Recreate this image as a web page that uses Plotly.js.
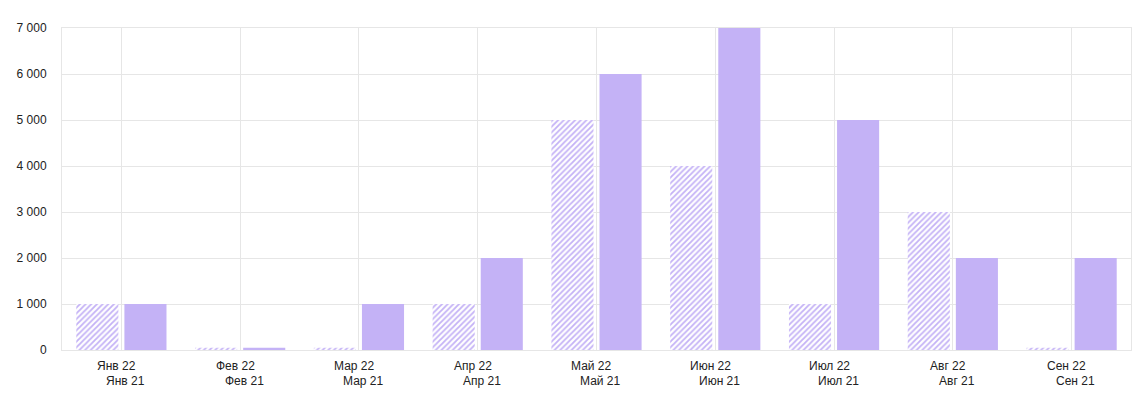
<!DOCTYPE html>
<html>
<head>
<meta charset="utf-8">
<script src="https://cdn.plot.ly/plotly-3.0.1.min.js"></script>
<style>html,body{margin:0;padding:0;background:#fff;}#chart{width:1133px;height:399px;}</style>
</head>
<body>
<div id="chart"></div>
<script>
const months = ["Янв", "Фев", "Мар", "Апр", "Май", "Июн", "Июл", "Авг", "Сен"];
const labels22 = months.map(m => m + " 22");
const labels21 = months.map(m => m + " 21");
const values22 = [1000, 50, 50, 1000, 5000, 4000, 1000, 3000, 50];
const values21 = [1000, 50, 1000, 2000, 6000, 7000, 5000, 2000, 2000];
const yTicks = [0, 1000, 2000, 3000, 4000, 5000, 6000, 7000];

const purple = '#c4b2f6';
const traces = [
  {
    type: 'bar', x: months, y: values22, name: '2022',
    marker: {color: purple, line: {width: 0},
      pattern: {shape: '/', fgcolor: purple, bgcolor: '#ffffff', size: 4, solidity: 0.45}},
    hoverinfo: 'none'
  },
  {
    type: 'bar', x: months, y: values21, name: '2021',
    marker: {color: purple, line: {width: 0}},
    hoverinfo: 'none'
  }
];

const annotations = [];
months.forEach((m, i) => {
  annotations.push({x: m, y: 0, xref: 'x', yref: 'paper', text: labels22[i], showarrow: false,
    xanchor: 'center', yanchor: 'middle', xshift: -5, yshift: -16,
    font: {family: 'Liberation Sans, Arial, sans-serif', size: 12, color: '#222'}});
  annotations.push({x: m, y: 0, xref: 'x', yref: 'paper', text: labels21[i], showarrow: false,
    xanchor: 'center', yanchor: 'middle', xshift: 4, yshift: -31,
    font: {family: 'Liberation Sans, Arial, sans-serif', size: 12, color: '#222'}});
});

const layout = {
  width: 1133, height: 399,
  margin: {l: 62, r: 2, t: 28, b: 49},
  paper_bgcolor: '#fff', plot_bgcolor: '#fff',
  separators: ', ',
  barmode: 'group', bargap: 0.19, bargroupgap: 0.125,
  showlegend: false,
  font: {family: 'Liberation Sans, Arial, sans-serif', size: 12, color: '#222'},
  xaxis: {
    type: 'category', range: [-0.5, 8.5], showticklabels: false,
    showgrid: true, gridcolor: '#e6e6e6', gridwidth: 1,
    showline: true, linecolor: '#e6e6e6', linewidth: 1, mirror: true,
    ticks: '', zeroline: false, fixedrange: true
  },
  yaxis: {
    range: [0, 7000], tickvals: yTicks, tickformat: ',d',
    showgrid: true, gridcolor: '#e6e6e6', gridwidth: 1,
    showline: true, linecolor: '#e6e6e6', linewidth: 1, mirror: true,
    zeroline: false, ticks: 'outside', ticklen: 12, tickcolor: 'rgba(0,0,0,0)',
    tickfont: {size: 12, color: '#222'}, fixedrange: true
  },
  annotations: annotations
};

Plotly.newPlot('chart', traces, layout, {displayModeBar: false, staticPlot: true});
</script>
</body>
</html>
